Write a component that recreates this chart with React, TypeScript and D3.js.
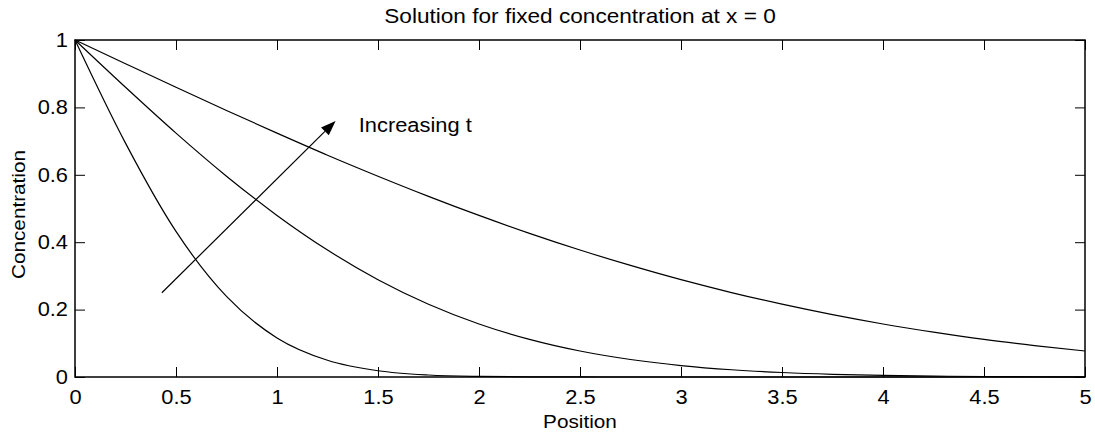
import React, { useEffect, useRef } from 'react';
import * as d3 from 'd3';

// positions along the bar where the concentration was read
const positions = [0, 0.25, 0.5, 0.75, 1, 1.25, 1.5, 1.75, 2, 2.25, 2.5, 2.75, 3, 3.25, 3.5, 3.75, 4, 4.25, 4.5, 4.75, 5];

// three times, shortest first
const concShort = [1, 0.694, 0.432, 0.239, 0.116, 0.0496, 0.0185, 0.0059, 0.0017, 0.0004, 0.0001, 0, 0, 0, 0, 0, 0, 0, 0, 0, 0];
const concMid = [1, 0.8597, 0.7237, 0.5959, 0.4795, 0.3767, 0.2888, 0.2159, 0.1573, 0.1116, 0.0771, 0.0519, 0.0339, 0.0215, 0.0133, 0.008, 0.0047, 0.0027, 0.0015, 0.0008, 0.0004];
const concLong = [1, 0.9296, 0.8597, 0.7909, 0.7237, 0.6582, 0.5959, 0.5361, 0.4795, 0.4263, 0.3768, 0.3311, 0.2888, 0.2506, 0.216, 0.185, 0.1573, 0.133, 0.1114, 0.0932, 0.0771];

const xTicks = [0, 0.5, 1, 1.5, 2, 2.5, 3, 3.5, 4, 4.5, 5];
const yTicks = [0, 0.2, 0.4, 0.6, 0.8, 1];

// arrow annotation, in data units
const arrowFrom = [0.43, 0.25];
const arrowTo = [1.29, 0.76];
const arrowLabel = 'Increasing t';
const arrowLabelAt = [1.405, 0.727];

const W = 1095, H = 439;
const FONT = 'Arial, "Liberation Sans", Helvetica, sans-serif';
const FS = 19.5;
const STRETCH = 1.12; // the reference text is a little wider than plain Arial

// widen a text selection horizontally while keeping its anchor
const widen = (sel: any) => {
    sel.each(function (this: SVGTextElement) {
        const len = this.getComputedTextLength();
        if (len > 0) {
            d3.select(this).attr('textLength', len * STRETCH).attr('lengthAdjust', 'spacingAndGlyphs');
        }
    });
};

const App = () => {
    const ref = useRef<SVGSVGElement>(null);

    useEffect(() => {
        if (!ref.current) return;
        const svg = d3.select(ref.current);
        svg.selectAll('*').remove();

        const margin = { top: 40, right: 10, bottom: 62, left: 75 };
        const width = W - margin.left - margin.right;
        const height = H - margin.top - margin.bottom;

        const x = d3.scaleLinear().domain([0, 5]).range([0, width]);
        const y = d3.scaleLinear().domain([0, 1]).range([height, 0]);

        const g = svg.append('g').attr('transform', `translate(${margin.left},${margin.top})`);

        // curves
        const line = d3.line<number>()
            .x((_, i) => x(positions[i]))
            .y(d => y(d))
            .curve(d3.curveMonotoneX);

        [concShort, concMid, concLong].forEach(s => {
            g.append('path')
                .datum(s)
                .attr('d', line)
                .attr('fill', 'none')
                .attr('stroke', '#000')
                .attr('stroke-width', 1.2);
        });

        // axes: bottom/left with labels, top/right mirrored ticks only
        const tick = 10;
        const styleAxis = (sel: any) => {
            sel.select('.domain').remove();
            sel.selectAll('.tick line').attr('stroke', '#000').attr('stroke-width', 1);
            sel.selectAll('.tick text')
                .attr('font-family', FONT)
                .attr('font-size', FS)
                .attr('fill', '#000')
                .call(widen);
        };

        g.append('g')
            .attr('transform', `translate(0,${height})`)
            .call(d3.axisBottom(x).tickValues(xTicks).tickSizeInner(-tick).tickPadding(13).tickFormat(d => String(d)))
            .call(styleAxis);
        g.append('g')
            .call(d3.axisTop(x).tickValues(xTicks).tickSizeInner(-tick).tickFormat(() => ''))
            .call(styleAxis);
        g.append('g')
            .call(d3.axisLeft(y).tickValues(yTicks).tickSizeInner(-tick).tickPadding(7).tickFormat(d => String(d)))
            .call(styleAxis);
        g.append('g')
            .attr('transform', `translate(${width},0)`)
            .call(d3.axisRight(y).tickValues(yTicks).tickSizeInner(-tick).tickFormat(() => ''))
            .call(styleAxis);

        // frame
        g.append('rect')
            .attr('width', width)
            .attr('height', height)
            .attr('fill', 'none')
            .attr('stroke', '#000')
            .attr('stroke-width', 1.5);

        // arrow
        const x1 = x(arrowFrom[0]), y1 = y(arrowFrom[1]);
        const x2 = x(arrowTo[0]), y2 = y(arrowTo[1]);
        const ang = Math.atan2(y2 - y1, x2 - x1);
        const headLen = 15, headHalf = 5.5;
        const bx = x2 - headLen * Math.cos(ang), by = y2 - headLen * Math.sin(ang);
        g.append('line')
            .attr('x1', x1).attr('y1', y1).attr('x2', bx).attr('y2', by)
            .attr('stroke', '#000').attr('stroke-width', 1.2);
        g.append('path')
            .attr('d', `M${x2},${y2}L${bx - headHalf * Math.sin(ang)},${by + headHalf * Math.cos(ang)}L${bx + headHalf * Math.sin(ang)},${by - headHalf * Math.cos(ang)}Z`)
            .attr('fill', '#000');
        g.append('text')
            .attr('x', x(arrowLabelAt[0]))
            .attr('y', y(arrowLabelAt[1]))
            .attr('font-family', FONT)
            .attr('font-size', FS)
            .text(arrowLabel)
            .call(widen);

        // titles
        svg.append('text')
            .attr('x', margin.left + width / 2)
            .attr('y', 22.5)
            .attr('text-anchor', 'middle')
            .attr('font-family', FONT)
            .attr('font-size', 20.2)
            .text('Solution for fixed concentration at x = 0')
            .call(widen);
        svg.append('text')
            .attr('x', margin.left + width / 2)
            .attr('y', 428)
            .attr('text-anchor', 'middle')
            .attr('font-family', FONT)
            .attr('font-size', 18.5)
            .text('Position')
            .call(widen);
        svg.append('text')
            .attr('transform', `translate(25,${margin.top + height / 2 + 6}) rotate(-90)`)
            .attr('text-anchor', 'middle')
            .attr('font-family', FONT)
            .attr('font-size', 18.5)
            .text('Concentration')
            .call(widen);
    }, []);

    return (
        <svg ref={ref} width={W} height={H} style={{ position: 'absolute', left: 0, top: 0, background: '#fff' }} />
    );
};

export default App;
